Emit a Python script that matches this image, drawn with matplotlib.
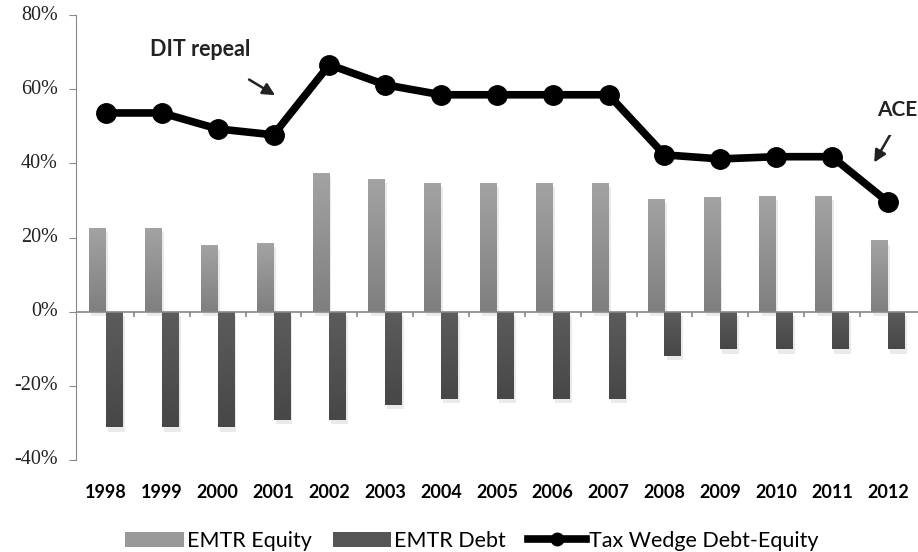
import numpy as np
import matplotlib
matplotlib.use("Agg")
import matplotlib.pyplot as plt
import matplotlib.patheffects as pe
from matplotlib import font_manager

# data (percent)
years = ["1998", "1999", "2000", "2001", "2002", "2003", "2004", "2005",
         "2006", "2007", "2008", "2009", "2010", "2011", "2012"]
emtr_equity = [22.7, 22.7, 18.1, 18.6, 37.5, 35.8, 34.8, 34.8, 34.8, 34.8,
               30.5, 31.0, 31.2, 31.2, 19.2]
emtr_debt = [-31.2, -31.2, -31.2, -29.1, -29.1, -25.1, -23.5, -23.5, -23.5,
             -23.5, -11.9, -10.2, -10.2, -10.2, -10.2]
tax_wedge = [53.6, 53.6, 49.3, 47.7, 66.6, 61.2, 58.5, 58.5, 58.5, 58.5,
             42.3, 41.2, 41.8, 41.8, 29.6]
y_ticks = [-40, -20, 0, 20, 40, 60, 80]
y_labels = ["-40%", "-20%", "0%", "20%", "40%", "60%", "80%"]

x = np.arange(len(years))
w = 0.3

fig = plt.figure(figsize=(9.18, 5.52), dpi=100)
ax = fig.add_axes([0.0828, 0.1667, 0.917, 0.806])

shadow = [pe.SimplePatchShadow(offset=(1.5, -3), shadow_rgbFace="0.6", alpha=0.2), pe.Normal()]
b1 = ax.bar(x - w / 2, emtr_equity, w, color="#999999", label="EMTR Equity", zorder=2)
b2 = ax.bar(x + w / 2, emtr_debt, w, color="#555555", label="EMTR Debt", zorder=2)


def gradient(bars, top, bottom):
    grad = np.linspace(0, 1, 64).reshape(-1, 1)
    c0 = np.array(matplotlib.colors.to_rgb(top))
    c1 = np.array(matplotlib.colors.to_rgb(bottom))
    img = c0 + (c1 - c0) * grad[:, :, None]
    for b in bars:
        b.set_path_effects(shadow)
        b.set_facecolor("none")
        b.set_edgecolor("none")
        x0, y0 = b.get_x(), b.get_y()
        x1, y1 = x0 + b.get_width(), y0 + b.get_height()
        lo, hi = min(y0, y1), max(y0, y1)
        im = ax.imshow(img, extent=(x0, x1, lo, hi), origin="upper",
                       aspect="auto", zorder=2.5)
        im.set_clip_path(b)


gradient(b1, "#a3a3a3", "#7f7f7f")
gradient(b2, "#5c5c5c", "#474747")

ax.plot(x, tax_wedge, color="black", lw=5.5, marker="o", ms=14,
        label="Tax Wedge Debt-Equity", zorder=4)

ax.set_xlim(-0.536, 14.536)
ax.set_ylim(-40, 80)
ax.set_yticks(y_ticks)
ax.set_yticklabels([])
ax.tick_params(axis="y", length=5, color="#888888")
# y labels drawn as plain texts in a serif face
serif = font_manager.FontProperties(family=["Liberation Serif", "DejaVu Serif"], size=14.5)
for v, s in zip(y_ticks, y_labels):
    ax.annotate(s, xy=(0, v), xycoords=("axes fraction", "data"), xytext=(-13, 0),
                textcoords="offset points", ha="right", va="center",
                fontproperties=serif, color="#222222")

ax.set_xticks(x, years, family="Lato", fontweight="bold", fontsize=13)
ax.tick_params(axis="x", length=0, pad=17)

for s in ["top", "right", "bottom"]:
    ax.spines[s].set_visible(False)
ax.spines["left"].set_color("#888888")
ax.axhline(0, color="#888888", lw=1.2, zorder=3)
ax.vlines(np.arange(0.5, len(years) - 1, 1), -1.5, 0, color="#888888", lw=1.2, zorder=3)

ax.annotate("", xy=(3.07, 58), xytext=(2.52, 63),
            arrowprops=dict(arrowstyle="-|>", color="#222222", lw=1.8, mutation_scale=18))
ax.text(1.68, 70.6, "DIT repeal", family="Lato", fontweight="bold", fontsize=15.5,
        ha="center", va="center", color="#222222",
        bbox=dict(boxstyle="square,pad=0.8", fc="white", ec="none"), zorder=5)
ax.annotate("", xy=(13.73, 39.6), xytext=(14.09, 49),
            arrowprops=dict(arrowstyle="-|>", color="#222222", lw=1.8, mutation_scale=18))
ax.text(14.16, 54.4, "ACE", family="Lato", fontweight="bold", fontsize=15,
        ha="center", va="center", color="#222222",
        bbox=dict(boxstyle="square,pad=0.7", fc="white", ec="none"), zorder=5)

leg = fig.legend(handles=[b1, b2, ax.lines[0]], loc="center", bbox_to_anchor=(472 / 918, 1 - 541 / 552),
                 ncol=3, frameon=False, prop={"family": "Lato", "size": 15.5},
                 handlelength=2.7, handletextpad=0.15, columnspacing=1.0)
for h, c in zip(leg.legend_handles[:2], ["#999999", "#555555"]):
    h.set_facecolor(c)
    h.set_path_effects([])
leg.legend_handles[2].set_markersize(9)

fig.savefig("out.png", dpi=100, facecolor="white")
